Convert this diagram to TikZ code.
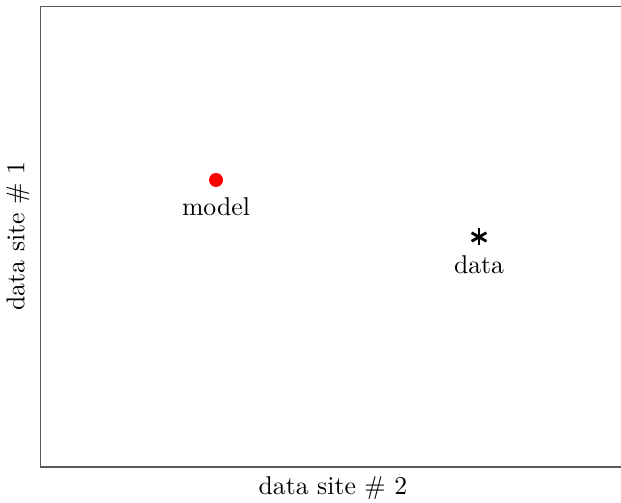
\documentclass[tikz,border=0pt]{standalone}
\begin{document}
\begin{tikzpicture}[x=1bp,y=1bp,every node/.style={font=\fontsize{10}{12}\selectfont,scale=2.58,inner sep=0pt}]
\useasboundingbox (0,0) rectangle (621,503);
% axes (no right edge)
\draw[black!65,line width=1.2bp] (621,496.5) -- (40.5,496.5) -- (40.5,36) -- (621,36);
\node[rotate=90] (ylab) at (18,267) {data site \# 1};
\node (xlab) at (333,15) {data site \# 2};
% model point
\fill[red] (216,323) circle (7);
\node (model) at (216,296) {model};
% data point
\begin{scope}[shift={(479,266)},line width=2.8bp]
\draw (0,-8.5) -- (0,8.5);
\draw (-7.4,-4.25) -- (7.4,4.25);
\draw (-7.4,4.25) -- (7.4,-4.25);
\end{scope}
\node (data) at (479,238) {data};
\end{tikzpicture}
\end{document}
